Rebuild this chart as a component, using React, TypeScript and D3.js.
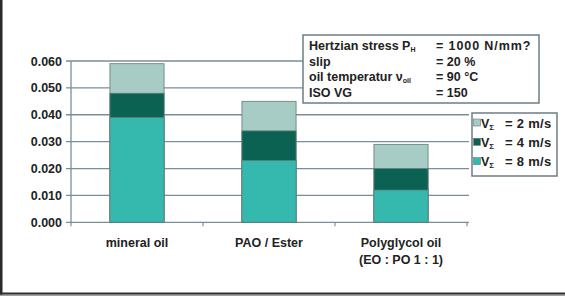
import React from "react";
import * as d3 from "d3";

const categories = ["mineral oil", "PAO / Ester", "Polyglycol oil"];
const categorySub = ["", "", "(EO : PO 1 : 1)"];
const seriesNames = ["2 m/s", "4 m/s", "8 m/s"];
const v2 = [0.059, 0.045, 0.029];
const v4 = [0.048, 0.034, 0.020];
const v8 = [0.039, 0.023, 0.012];
const yTicks = [0, 0.01, 0.02, 0.03, 0.04, 0.05, 0.06];
const infoLabels = ["Hertzian stress P", "slip", "oil temperatur \u03bd", "ISO VG"];
const infoSubs = ["H", "", "oil", ""];
const infoValues = ["= 1000 N/mm?", "= 20 %", "= 90 \u00b0C", "= 150"];

const colors = ["#a7ccc6", "#0b6152", "#35b9ae"];
const FONT = "'Liberation Sans', Arial, sans-serif";

export default function App() {
  const x = d3.scaleBand<string>().domain(categories).range([71, 467]).paddingInner(0.59).paddingOuter(0.295);
  const y = d3.scaleLinear().domain([0, 0.06]).range([222.3, 61]);
  const series = [v2, v4, v8];
  const step = x.step();
  const fmt = d3.format(".3f");

  return (
    <svg width={565} height={297} style={{ position: "fixed", left: 0, top: 0, background: "#fff" }} fontFamily={FONT}>
      <rect x={0} y={0} width={565} height={297} fill="#fff" />
      {/* frame */}
      <rect x={0} y={0} width={2.5} height={295} fill="#2a2a2a" />
      <rect x={0} y={292.5} width={565} height={2.2} fill="#2e2e2e" />
      <rect x={0} y={294.7} width={565} height={1.2} fill="#9a9a9a" />

      {/* gridlines */}
      {yTicks.map((t) => (
        <line key={"g" + t} x1={66} x2={469} y1={y(t)} y2={y(t)} stroke="#7a8e98" strokeWidth={1.3} />
      ))}
      {/* y axis */}
      <line x1={71} x2={71} y1={y(0.06)} y2={y(0)} stroke="#7a8e98" strokeWidth={1.3} />
      {/* x ticks */}
      {d3.range(categories.length + 1).map((i) => (
        <line key={"xt" + i} x1={71 + i * step} x2={71 + i * step} y1={y(0)} y2={y(0) + 4} stroke="#7a8e98" strokeWidth={1.2} />
      ))}
      {/* y labels */}
      {yTicks.map((t) => (
        <text key={"yl" + t} x={62} y={y(t) + 4.5} textAnchor="end" fontSize={12.5} fontWeight="bold" fill="#222">
          {fmt(t)}
        </text>
      ))}

      {/* bars */}
      {series.map((vals, si) =>
        categories.map((c, ci) => (
          <rect
            key={"b" + si + ci}
            x={x(c)!}
            width={x.bandwidth()}
            y={y(vals[ci])}
            height={y(0) - y(vals[ci])}
            fill={colors[si]}
            stroke="#5f7d78"
            strokeWidth={0.8}
          />
        ))
      )}

      {/* category labels */}
      {categories.map((c, ci) => (
        <g key={"cl" + c}>
          <text x={x(c)! + x.bandwidth() / 2} y={246.5} textAnchor="middle" fontSize={12.5} fontWeight="bold" fill="#222">
            {c}
          </text>
          {categorySub[ci] && (
            <text x={x(c)! + x.bandwidth() / 2} y={264} textAnchor="middle" fontSize={12.5} fontWeight="bold" fill="#222">
              {categorySub[ci]}
            </text>
          )}
        </g>
      ))}

      {/* info box */}
      <rect x={303} y={35} width={236} height={68} fill="#fff" stroke="#6c7d84" strokeWidth={1.5} />
      {infoLabels.map((l, i) => (
        <g key={"info" + i}>
          <text x={309} y={50 + i * 15.5} fontSize={12.5} fontWeight="bold" fill="#222">
            {l}
            {infoSubs[i] && (
              <tspan fontSize={7} dy={2}>
                {infoSubs[i]}
              </tspan>
            )}
          </text>
          <text x={436} y={50 + i * 15.5} fontSize={12.5} fontWeight="bold" fill="#222" letterSpacing={i === 0 ? 0.9 : 0}>
            {infoValues[i]}
          </text>
        </g>
      ))}

      {/* legend */}
      <rect x={472} y={113} width={85} height={63} fill="#fff" stroke="#6c7d84" strokeWidth={1.5} />
      {seriesNames.map((s, i) => (
        <g key={"lg" + i}>
          <rect x={473.5} y={123 + i * 19.3 - 4} width={7} height={7} fill={colors[i]} stroke="#5f7d78" strokeWidth={0.6} />
          <text x={481} y={123 + i * 19.3 + 4.5} fontSize={12.5} fontWeight="bold" fill="#222">
            V<tspan fontSize={8} dy={2}>{"\u03a3"}</tspan>
          </text>
          <text x={505} y={123 + i * 19.3 + 4.5} fontSize={13} fontWeight="bold" fill="#222" letterSpacing={0.3}>
            {"= " + s}
          </text>
        </g>
      ))}
    </svg>
  );
}
